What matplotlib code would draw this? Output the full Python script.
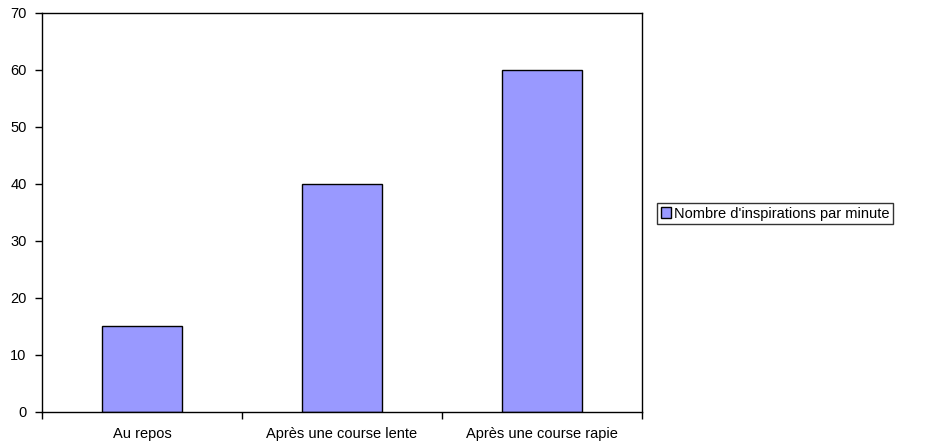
import matplotlib.pyplot as plt
import numpy as np

plt.rcParams['font.family'] = ['Liberation Sans', 'DejaVu Sans']

categories = ['Au repos', 'Après une course lente', 'Après une course rapie']
values = [15, 40, 60]
series_name = "Nombre d'inspirations par minute"

fig = plt.figure(figsize=(9.36, 4.43), dpi=100)
ax = fig.add_axes([0.0449, 0.070, 0.641, 0.9007])

x = np.arange(len(categories))
ax.bar(x, values, width=0.4, color='#9999ff', edgecolor='black', linewidth=1.0,
       label=series_name)

ax.set_xlim(-0.5, len(categories) - 0.5)
ax.set_ylim(0, 70)
ax.set_yticks(range(0, 71, 10))
ax.set_xticks(x)
ax.set_xticklabels(categories)
ax.set_xticks(np.arange(-0.5, len(categories), 1.0), minor=True)
ax.tick_params(axis='x', which='major', length=0, pad=11, labelsize=10.5)
ax.tick_params(axis='x', which='minor', length=5, width=1.0, direction='out')
ax.tick_params(axis='y', length=5, width=1.0, direction='out', labelsize=10.5, pad=6)
for s in ax.spines.values():
    s.set_linewidth(1.0)
    s.set_color('black')

leg = ax.legend(loc='center left', bbox_to_anchor=(0.702, 0.518), bbox_transform=fig.transFigure,
                frameon=True, fancybox=False, edgecolor='black', handlelength=0.7,
                handleheight=0.7, handletextpad=0.2, borderpad=0.25, fontsize=10.5,
                borderaxespad=0)
leg.get_frame().set_linewidth(1.0)

fig.savefig('out.png', dpi=100)
